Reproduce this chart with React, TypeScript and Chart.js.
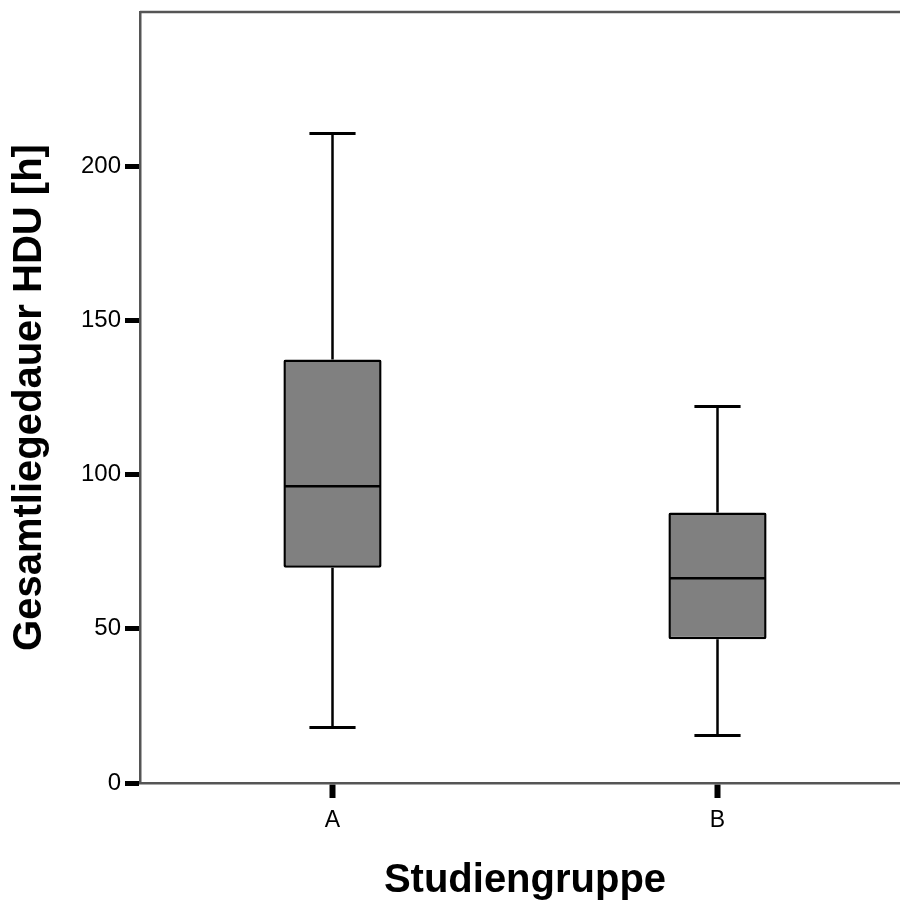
import React, { useEffect, useRef } from "react";
import { Chart, registerables } from "chart.js";

Chart.register(...registerables);

const categories = ["A", "B"];
const whiskerLow = [18.0, 15.4];
const q1 = [69.8, 46.6];
const median = [96.2, 66.4];
const q3 = [137.3, 87.7];
const whiskerHigh = [210.6, 122.1];
const yTicks = [0, 50, 100, 150, 200];
const yMin = 0;
const yMax = 250;
const yTitle = "Gesamtliegedauer HDU [h]";
const xTitle = "Studiengruppe";

const FONT = "'Liberation Sans', Arial, Helvetica, sans-serif";

const boxPlugin = {
  id: "boxWhiskers",
  beforeDatasetsDraw(chart: any) {
    const ctx = chart.ctx;
    const meta = chart.getDatasetMeta(0);
    const ys = chart.scales.y;
    ctx.save();
    ctx.strokeStyle = "#000";
    ctx.lineWidth = 2.5;
    meta.data.forEach((el: any, i: number) => {
      const x = el.x;
      ctx.beginPath();
      ctx.moveTo(x, ys.getPixelForValue(q3[i]));
      ctx.lineTo(x, ys.getPixelForValue(whiskerHigh[i]));
      ctx.moveTo(x, ys.getPixelForValue(q1[i]));
      ctx.lineTo(x, ys.getPixelForValue(whiskerLow[i]));
      ctx.stroke();
    });
    ctx.restore();
  },
  afterDatasetsDraw(chart: any) {
    const ctx = chart.ctx;
    const meta = chart.getDatasetMeta(0);
    const ys = chart.scales.y;
    ctx.save();
    ctx.strokeStyle = "#000";
    meta.data.forEach((el: any, i: number) => {
      const x = el.x;
      const w = el.width;
      const cap = w * 0.235;
      ctx.lineWidth = 3;
      ctx.beginPath();
      const yh = ys.getPixelForValue(whiskerHigh[i]);
      const yl = ys.getPixelForValue(whiskerLow[i]);
      ctx.moveTo(x - cap, yh);
      ctx.lineTo(x + cap, yh);
      ctx.moveTo(x - cap, yl);
      ctx.lineTo(x + cap, yl);
      ctx.stroke();
      ctx.lineWidth = 2.5;
      ctx.beginPath();
      const ym = ys.getPixelForValue(median[i]);
      ctx.moveTo(x - w / 2 + 1, ym);
      ctx.lineTo(x + w / 2 - 1, ym);
      ctx.stroke();
    });
    // top frame line
    const a = chart.chartArea;
    ctx.strokeStyle = "#555";
    ctx.lineWidth = 2.5;
    ctx.beginPath();
    ctx.moveTo(a.left, a.top);
    ctx.lineTo(a.right + 5, a.top);
    ctx.stroke();
    ctx.restore();
  },
};

export default function App() {
  const ref = useRef<HTMLCanvasElement | null>(null);

  useEffect(() => {
    if (!ref.current) return;
    const chart = new Chart(ref.current, {
      type: "bar",
      data: {
        labels: categories,
        datasets: [
          {
            data: categories.map((_, i) => [q1[i], q3[i]]) as any,
            backgroundColor: "#808080",
            borderColor: "#000",
            borderWidth: 2.5,
            borderSkipped: false,
            borderRadius: 2,
            barPercentage: 0.255,
            categoryPercentage: 1,
          },
        ],
      },
      options: {
        responsive: false,
        animation: false,
        devicePixelRatio: 1,
        layout: { padding: { left: 0, top: 12, right: 2, bottom: 0 } },
        plugins: {
          legend: { display: false },
          tooltip: { enabled: false },
        },
        scales: {
          x: {
            offset: true,
            grid: {
              offset: false,
              drawOnChartArea: false,
              drawTicks: true,
              tickLength: 15,
              tickWidth: 6,
              tickColor: "#000",
            },
            border: { color: "#555", width: 2.5 },
            ticks: {
              color: "#000",
              font: { family: FONT, size: 23 },
              padding: 9,
            },
            title: {
              display: true,
              text: xTitle,
              color: "#000",
              font: { family: FONT, size: 40, weight: "bold" },
              padding: { top: 0, bottom: 0 },
            },
            afterFit(scale: any) {
              scale.height = 122;
              scale.paddingLeft = 0;
              scale.paddingRight = 0;
            },
          },
          y: {
            min: yMin,
            max: yMax,
            grid: {
              drawOnChartArea: false,
              drawTicks: true,
              tickLength: 15,
              tickWidth: 5,
              tickColor: "#000",
            },
            border: { color: "#555", width: 2.5 },
            ticks: {
              color: "#000",
              font: { family: FONT, size: 24 },
              padding: 4,
            },
            afterBuildTicks(scale: any) {
              scale.ticks = yTicks.map((v) => ({ value: v }));
            },
            title: {
              display: true,
              text: yTitle,
              color: "#000",
              font: { family: FONT, size: 40, weight: "bold" },
              padding: { top: 6, bottom: 0 },
            },
            afterFit(scale: any) {
              scale.width = 140;
              scale.paddingTop = 0;
              scale.paddingBottom = 0;
            },
          },
        },
      },
      plugins: [boxPlugin],
    });
    return () => chart.destroy();
  }, []);

  return (
    <div
      style={{
        position: "fixed",
        left: 0,
        top: 0,
        width: 900,
        height: 905,
        overflow: "hidden",
        background: "#fff",
      }}
    >
      <canvas
        ref={ref}
        width={912}
        height={905}
        style={{ display: "block", width: 912, height: 905 }}
      />
    </div>
  );
}
